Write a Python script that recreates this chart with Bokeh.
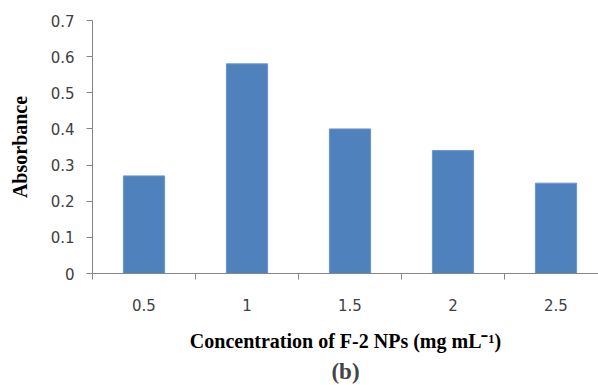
from bokeh.plotting import figure
from bokeh.models import Range1d, FixedTicker, Title, ColumnDataSource
from bokeh.embed import file_html
from bokeh.resources import INLINE

# data
concentration = [0.5, 1.0, 1.5, 2.0, 2.5]
concentration_labels = ["0.5", "1", "1.5", "2", "2.5"]
absorbance = [0.27, 0.58, 0.40, 0.34, 0.25]
y_ticks = [0, 0.1, 0.2, 0.3, 0.4, 0.5, 0.6, 0.7]
y_tick_labels = ["0", "0.1", "0.2", "0.3", "0.4", "0.5", "0.6", "0.7"]

step = 0.5
frame_px = 506.0
cat_px = 103.0
x_start = concentration[0] - step / 2
x_end = x_start + step * frame_px / cat_px

p = figure(width=598, height=385, output_backend="svg", toolbar_location=None,
           x_range=Range1d(x_start, x_end), y_range=Range1d(0, 0.7),
           min_border_left=92, min_border_top=20, min_border_right=0,
           min_border_bottom=0)
p.outline_line_color = None
p.grid.visible = False
p.background_fill_color = "white"
p.border_fill_color = "white"

src = ColumnDataSource(dict(x=concentration, top=absorbance))
p.vbar(x="x", top="top", bottom=0, width=step * 0.4, source=src,
       fill_color="#4F81BD", line_color="#6A96CC", line_width=1)

# x axis: labels at centres, ticks at category boundaries
bounds = [c - step / 2 for c in concentration]
p.xaxis.ticker = FixedTicker(ticks=concentration, minor_ticks=bounds)
p.xaxis.major_label_overrides = {c: l for c, l in zip(concentration, concentration_labels)}
p.xaxis.major_tick_out = 0
p.xaxis.major_tick_in = 0
p.xaxis.minor_tick_out = 6
p.xaxis.minor_tick_in = 0
p.xaxis.minor_tick_line_color = "#868686"
p.xaxis.major_label_standoff = 19

p.yaxis.ticker = FixedTicker(ticks=y_ticks)
p.yaxis.major_label_overrides = {t: l for t, l in zip(y_ticks, y_tick_labels)}
p.yaxis.major_tick_out = 6
p.yaxis.major_tick_in = 0
p.yaxis.minor_tick_line_color = None
p.yaxis.major_label_standoff = 12

for ax in (p.xaxis, p.yaxis):
    ax.axis_line_color = "#868686"
    ax.major_tick_line_color = "#868686"
    ax.major_label_text_font = "DejaVu Sans"
    ax.major_label_text_font_size = "15px"
    ax.major_label_text_color = "#404040"
    ax.axis_label_text_font = "Liberation Serif"
    ax.axis_label_text_font_style = "bold"
    ax.axis_label_text_color = "black"

p.xaxis.axis_label = "Concentration of F-2 NPs (mg mL\u207b\u00b9)"
p.xaxis.axis_label_text_font_size = "20px"
p.xaxis.axis_label_standoff = 16
p.yaxis.axis_label = "Absorbance"
p.yaxis.axis_label_text_font_size = "20px"
p.yaxis.axis_label_standoff = 17

cap = Title(text="(b)", align="center", text_font="Liberation Serif",
            text_font_style="bold", text_font_size="23px", offset=-17,
            standoff=4)
p.add_layout(cap, "below")

open("out.html", "w").write(file_html(p, INLINE))
